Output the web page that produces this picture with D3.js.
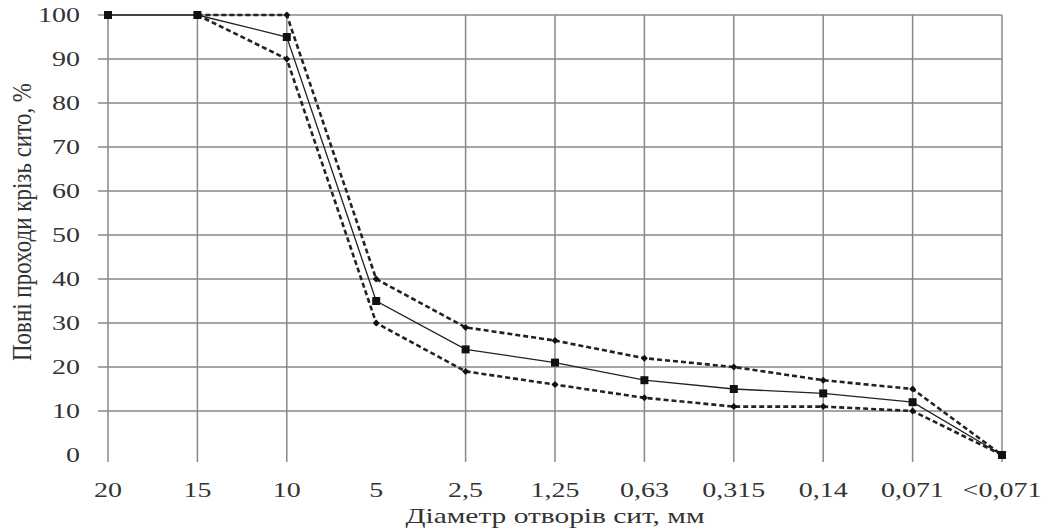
<!DOCTYPE html>
<html>
<head>
<meta charset="utf-8">
<script src="https://cdn.jsdelivr.net/npm/d3@7"></script>
<style>
  body { margin: 0; background: #fff; }
  text { font-family: "Liberation Serif", "DejaVu Serif", serif; fill: #333; }
</style>
</head>
<body>
<div class="chart"></div>
<script>
// sieve sizes, mm (category axis)
const SIEVES = ["20", "15", "10", "5", "2,5", "1,25", "0,63", "0,315", "0,14", "0,071", "<0,071"];
// passing through sieve, %
const UPPER = [null, 100, 100, 40, 29, 26, 22, 20, 17, 15, 0];
const MIDDLE = [100, 100, 95, 35, 24, 21, 17, 15, 14, 12, 0];
const LOWER = [null, 100, 90, 30, 19, 16, 13, 11, 11, 10, 0];
const Y_TICKS = [0, 10, 20, 30, 40, 50, 60, 70, 80, 90, 100];
// sieves without a vertical grid line in the original
const NO_GRID = ["5"];

const WIDTH = 1048;
const HEIGHT = 529;
const STRETCH = 1.4; // text in the source is stretched horizontally

const svg = d3
  .select(".chart")
  .append("svg")
  .attr("width", WIDTH)
  .attr("height", HEIGHT);

const xScale = d3.scalePoint().domain(SIEVES).range([108, 1002]);
const yScale = d3.scaleLinear().domain([0, 100]).range([455, 15]);

// horizontal grid
svg
  .append("g")
  .selectAll("line")
  .data(Y_TICKS.filter(d => d > 0))
  .join("line")
  .attr("x1", 98)
  .attr("x2", xScale.range()[1])
  .attr("y1", d => yScale(d))
  .attr("y2", d => yScale(d))
  .attr("stroke", "#888")
  .attr("stroke-width", 1.5);

// vertical grid
svg
  .append("g")
  .selectAll("line")
  .data(SIEVES.filter(d => NO_GRID.indexOf(d) < 0))
  .join("line")
  .attr("x1", d => xScale(d))
  .attr("x2", d => xScale(d))
  .attr("y1", yScale(100))
  .attr("y2", yScale(0) + 7)
  .attr("stroke", "#888")
  .attr("stroke-width", 1.5);

// y tick labels
svg
  .append("g")
  .selectAll("text")
  .data(Y_TICKS)
  .join("text")
  .attr("transform", d => `translate(80, ${yScale(d) + 7}) scale(${STRETCH}, 1)`)
  .attr("text-anchor", "end")
  .attr("font-size", 20)
  .text(d => d);

// x tick labels
svg
  .append("g")
  .selectAll("text")
  .data(SIEVES)
  .join("text")
  .attr("transform", d => `translate(${xScale(d)}, 497) scale(${STRETCH}, 1)`)
  .attr("text-anchor", "middle")
  .attr("font-size", 20)
  .text(d => d);

// axis titles
svg
  .append("text")
  .attr("transform", `translate(555, 523) scale(${STRETCH}, 1)`)
  .attr("text-anchor", "middle")
  .attr("font-size", 21)
  .text("Діаметр отворів сит, мм");

svg
  .append("text")
  .attr("transform", `translate(31, 222) scale(1.22, 1) rotate(-90)`)
  .attr("text-anchor", "middle")
  .attr("font-size", 23)
  .text("Повні проходи крізь сито, %");

const line = d3
  .line()
  .defined(d => d[1] !== null)
  .x(d => xScale(d[0]))
  .y(d => yScale(d[1]));

const pairs = values => SIEVES.map((s, i) => [s, values[i]]);

const series = [
  { values: UPPER, dash: "5,3", width: 2.6, marker: "diamond" },
  { values: LOWER, dash: "5,3", width: 2.6, marker: "diamond" },
  { values: MIDDLE, dash: null, width: 1.3, marker: "square" },
];

series.forEach(s => {
  const pts = pairs(s.values);
  svg
    .append("path")
    .attr("d", line(pts))
    .attr("fill", "none")
    .attr("stroke", "#222")
    .attr("stroke-width", s.width)
    .attr("stroke-dasharray", s.dash);

  const markers = svg
    .append("g")
    .selectAll("path")
    .data(pts.filter(d => d[1] !== null))
    .join("path")
    .attr("transform", d => `translate(${xScale(d[0])}, ${yScale(d[1])})`)
    .attr("fill", "#111");
  if (s.marker === "square") {
    markers.attr("d", "M-4,-4H4V4H-4Z");
  } else {
    markers.attr("d", "M0,-3.5L3.5,0L0,3.5L-3.5,0Z");
  }
});
</script>
</body>
</html>
